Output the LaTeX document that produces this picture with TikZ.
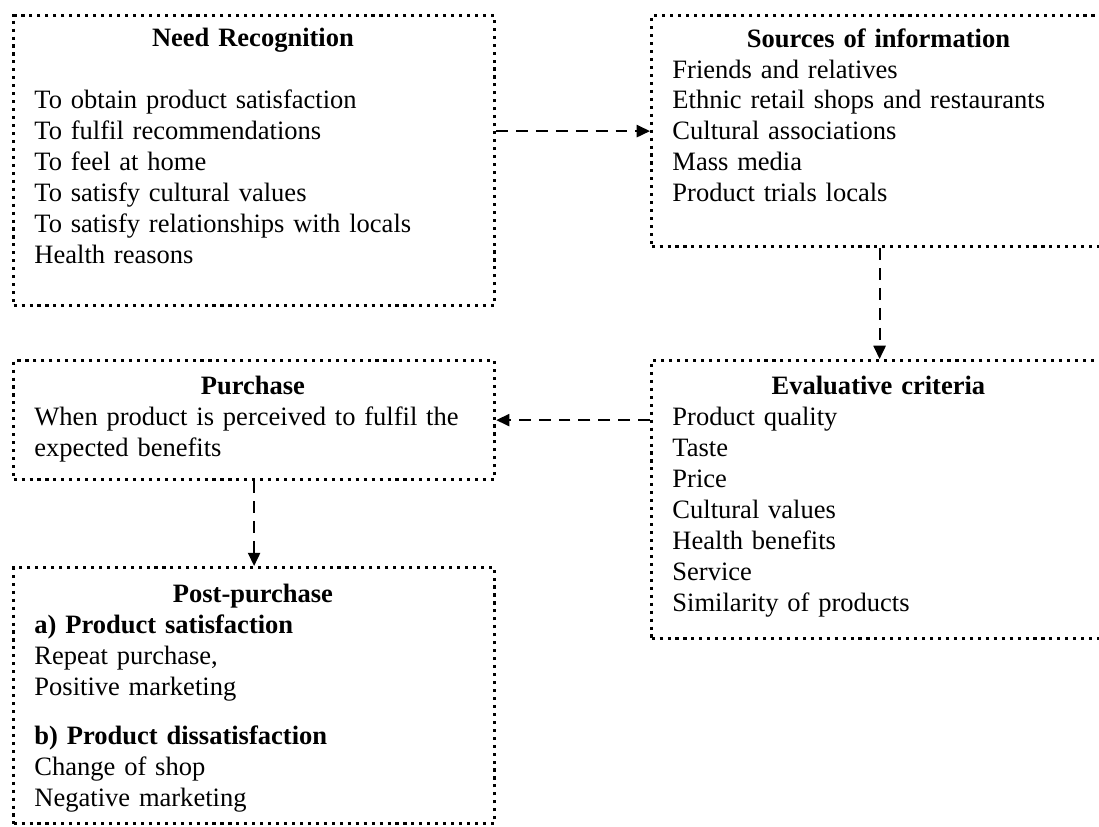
\documentclass[tikz,border=0pt]{standalone}
\usepackage{fontspec}
\setmainfont{Liberation Serif}
\usepackage{tikz}
\usetikzlibrary{arrows.meta,positioning}

\newlength{\px}
\setlength{\px}{0.4525pt}

\begin{document}
\begin{tikzpicture}[x=0.4525pt, y=-0.4525pt,
    box/.style={draw, line width=1.45pt, dash pattern=on 1.4pt off 2.2pt, anchor=north west, inner sep=0pt},
    txt/.style={anchor=north west, inner sep=0pt, align=left, font=\fontsize{12pt}{14pt}\selectfont},
    flow/.style={-{Triangle[length=6pt,width=5.5pt]}, line width=0.9pt, dash pattern=on 5.4pt off 3.6pt}]
    \useasboundingbox (0,0) rectangle (1099,826);
    % the five stages
    \node[box, minimum width=481\px, minimum height=290\px] (need) at (12,14) {};
    \node[box, minimum width=456\px, minimum height=231\px] (sources) at (650,14) {};
    \node[box, minimum width=456\px, minimum height=278\px] (eval) at (650,359) {};
    \node[box, minimum width=481\px, minimum height=119\px] (purchase) at (12,359) {};
    \node[box, minimum width=481\px, minimum height=256\px] (post) at (12,566) {};
    % what is written in them
    \node[txt, text width=437\px] (needtxt) at (34,28) {{\centering\bfseries Need Recognition\par}\vspace{14pt}
        To obtain product satisfaction\\ To fulfil recommendations\\ To feel at home\\
        To satisfy cultural values\\ To satisfy relationships with locals\\ Health reasons};
    \node[txt, text width=412\px] (sourcestxt) at (672,28) {{\centering\bfseries Sources of information\par}
        Friends and relatives\\ Ethnic retail shops and restaurants\\ Cultural associations\\
        Mass media\\ Product trials locals};
    \node[txt, text width=412\px] (evaltxt) at (672,376) {{\centering\bfseries Evaluative criteria\par}
        Product quality\\ Taste\\ Price\\ Cultural values\\ Health benefits\\ Service\\ Similarity of products};
    \node[txt, text width=437\px] (purchasetxt) at (34,376) {{\centering\bfseries Purchase\par}
        When product is perceived to fulfil the\\ expected benefits};
    \node[txt, text width=437\px] (posttxt) at (34,584) {{\centering\bfseries Post-purchase\par}
        \textbf{a) Product satisfaction}\\ Repeat purchase,\\ Positive marketing\\[8pt]
        \textbf{b) Product dissatisfaction}\\ Change of shop\\ Negative marketing};
    % arrows between stages
    \draw[flow] (need.east |- sources.west) -- (sources.west);
    \draw[flow] (sources.south) -- (eval.north);
    \draw[flow] (eval.west |- purchase.east) -- (purchase.east);
    \draw[flow] (purchase.south) -- (post.north);
\end{tikzpicture}
\end{document}
